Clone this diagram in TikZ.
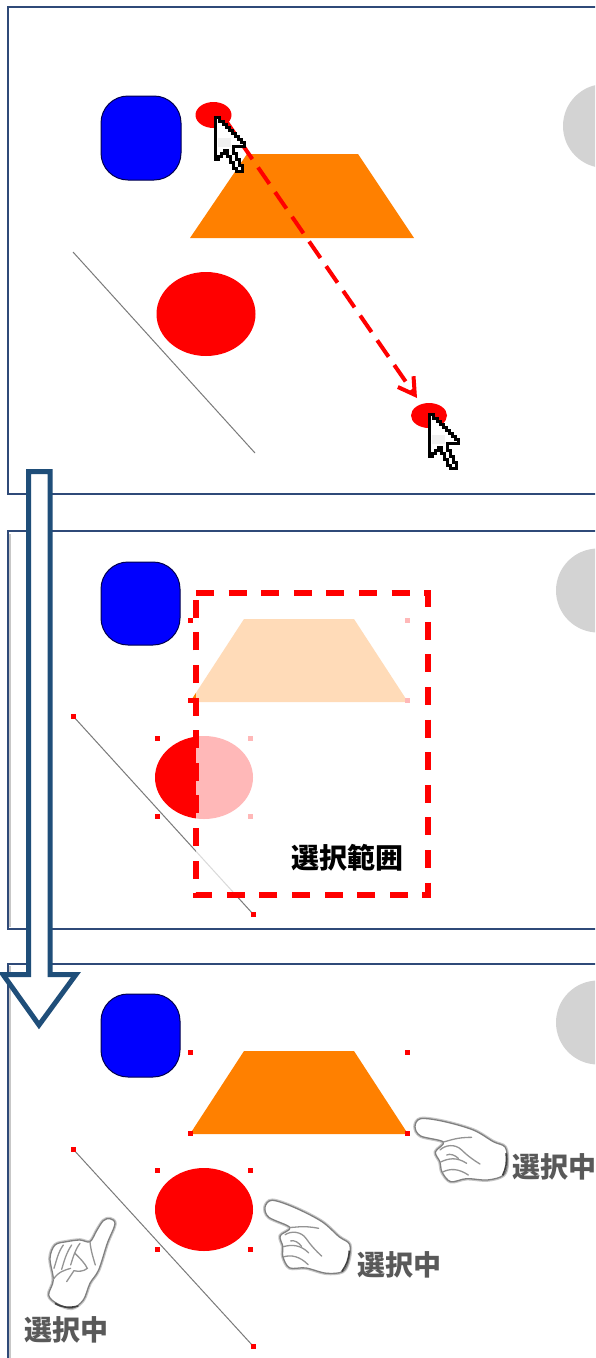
\documentclass[tikz,border=0pt]{standalone}
\usepackage{fontspec}
\newfontfamily\cjk{Noto Sans CJK JP}
\usetikzlibrary{arrows.meta,shapes.geometric}
\definecolor{panelblue}{HTML}{2F4A78}
\definecolor{arrowblue}{HTML}{1F4E79}
\definecolor{shapeorange}{HTML}{FF8000}
\definecolor{linegray}{HTML}{7A7A7A}
\definecolor{softgray}{HTML}{D3D3D3}
\definecolor{labelgray}{HTML}{595959}
\tikzset{
  panelline/.style={draw=panelblue,line width=1.7pt},
  shadowline/.style={draw=black!22,line width=1.5pt},
  bluebox/.style={fill=blue,draw=black!70!blue,line width=1pt,rounded corners=27pt},
  softdisc/.style={fill=softgray},
  trap/.style={fill=shapeorange},
  diag/.style={draw=linegray,line width=1pt},
  reddisc/.style={fill=red},
  handle/.style={fill=red,draw=none},
  handlefaded/.style={fill=red!28,draw=none},
  seltext/.style={font=\cjk\bfseries\fontsize{28}{28}\selectfont,inner sep=0pt,text=black},
  busytext/.style={font=\cjk\bfseries\fontsize{28}{28}\selectfont,inner sep=0pt,text=labelgray},
  handout/.style={draw=black!50,line width=1.3pt,fill=white,line join=round},
  handsoft/.style={draw=black!22,line width=3.6pt,line join=round},
  handin/.style={draw=black!42,line width=1.3pt,line cap=round},
  cursorbody/.pic={
    \path[draw=black,fill=white,line width=3pt,miter limit=2]
      (0,0)--(0,42)--(3,42)--(3,39)--(6,39)--(6,36)--(9,36)--(9,33)--(12,33)--(12,39)--(15,39)--(15,45)--(18,45)--(18,51)--(21,51)--(21,54)--(27,54)--(27,48)--(24,48)--(24,42)--(21,42)--(21,36)--(18,36)--(18,29)--(29,29)--(29,25)--(26,25)--(26,22)--(23,22)--(23,19)--(20,19)--(20,16)--(17,16)--(17,13)--(14,13)--(14,10)--(11,10)--(11,7)--(8,7)--(8,4)--(4,4)--(4,0)--cycle;
    \fill[black!6] (3,21) rectangle (16,30);
  },
  handa/.pic={
    \begin{scope}[x=.3333pt,y=-.3333pt]
      \draw[handsoft] plot[smooth cycle,tension=.55] coordinates {(45,80)(62,56)(130,64)(220,90)(280,125)(316,142)(322,190)(310,226)(262,240)(200,236)(152,245)(126,216)(120,186)(106,156)(130,126)(62,108)};
      \draw[handout] plot[smooth cycle,tension=.55] coordinates {(45,80)(62,56)(130,64)(220,90)(280,125)(316,142)(322,190)(310,226)(262,240)(200,236)(152,245)(126,216)(120,186)(106,156)(130,126)(62,108)};
      \draw[handin] (130,126) .. controls (155,120) and (170,112) .. (215,112);
      \draw[handin] (120,150) .. controls (135,135) and (165,130) .. (185,150) .. controls (200,165) and (220,180) .. (240,192);
      \draw[handin] (122,186) .. controls (145,175) and (170,170) .. (200,190);
      \draw[handin] (128,216) .. controls (150,205) and (175,205) .. (205,225);
      \draw[handin] (140,165) .. controls (150,160) and (165,165) .. (175,175);
      \draw[draw=black!75,line width=1.6pt] (318,160) .. controls (322,185) and (318,205) .. (308,226);
    \end{scope}
  },
  handb/.pic={
    \begin{scope}[x=.3333pt,y=-.3333pt]
      \draw[handsoft] plot[smooth cycle,tension=.55] coordinates {(330,56)(345,72)(322,130)(296,210)(270,250)(250,300)(215,325)(170,310)(146,285)(160,240)(150,175)(165,135)(200,125)(240,120)(270,125)(290,92)(310,62)};
      \draw[handout] plot[smooth cycle,tension=.55] coordinates {(330,56)(345,72)(322,130)(296,210)(270,250)(250,300)(215,325)(170,310)(146,285)(160,240)(150,175)(165,135)(200,125)(240,120)(270,125)(290,92)(310,62)};
      \draw[handin] (162,205) .. controls (170,180) and (175,155) .. (190,135);
      \draw[handin] (185,208) .. controls (192,185) and (198,160) .. (215,135);
      \draw[handin] (212,195) .. controls (220,170) and (225,150) .. (240,130);
      \draw[handin] (225,160) .. controls (240,175) and (255,190) .. (262,205) .. controls (250,215) and (235,215) .. (222,212);
      \draw[handin] (160,238) .. controls (175,215) and (195,210) .. (212,205);
      \draw[handin] (270,125) .. controls (272,150) and (280,175) .. (286,195);
      \draw[handin] (222,212) -- (200,245);
      \draw[draw=black!75,line width=1.6pt] (165,310) .. controls (185,322) and (205,325) .. (235,318);
    \end{scope}
  }
}
\begin{document}
\begin{tikzpicture}[x=1pt,y=-1pt]
\clip (0,0) rectangle (595,1358);
\fill[white] (0,0) rectangle (595,1358);

% ---- panel 1
\draw[panelline] (600,7) -- (8,7) -- (8,494) -- (600,494);
\fill[softdisc] (605,126) circle (42);
\draw[bluebox] (101,96) rectangle (181,180);
\fill[trap] (247,154) -- (358,154) -- (414,238) -- (190,238) -- cycle;
\draw[diag] (73,252) -- (255,453);
\fill[reddisc] (206,314) ellipse (49.5 and 42);
\node[ellipse,reddisc,minimum width=36pt,minimum height=26pt,inner sep=0pt] (ballstart) at (213.5,115) {};
\node[ellipse,reddisc,minimum width=36pt,minimum height=25pt,inner sep=0pt] (ballend) at (429,415.5) {};
\coordinate (dragfrom) at (224,118);
\coordinate (dragto) at (417,398);
\draw[red,line width=4pt,dash pattern=on 20pt off 10pt,-{Straight Barb[length=16pt,width=19pt,line width=4pt]}] (dragfrom) -- (dragto);
\pic at (215,117) {cursorbody};
\pic at (429,414) {cursorbody};

% ---- panel 2
\draw[panelline] (600,531) -- (8,531) -- (8,929) -- (600,929);
\draw[shadowline] (10.2,534) -- (10.2,927);
\fill[softdisc] (598,590.5) circle (42);
\draw[bluebox] (101,562) rectangle (180,645);
\fill[trap] (244,619) -- (354,619) -- (408,702) -- (190,702) -- cycle;
\draw[diag] (73,716) -- (253,914);
\fill[reddisc] (204,777.5) ellipse (49 and 41.5);
\fill[handle] (188,618) rectangle +(5,5);
\fill[handle] (188,697.5) rectangle +(5,5);
\fill[handle] (155,735.5) rectangle +(5,5);
\fill[handle] (155,814) rectangle +(5,5);
\fill[handle] (70.5,713.5) rectangle +(5,5);
\fill[handle] (250.5,911.5) rectangle +(5,5);
\fill[handle] (404.5,618) rectangle +(5,5);
\fill[handle] (404.5,697.5) rectangle +(5,5);
\fill[handle] (247.5,735.5) rectangle +(5,5);
\fill[handle] (247.5,814) rectangle +(5,5);
\fill[white,opacity=.72] (196,593) rectangle (428,895);
\draw[red,line width=5.2pt,dash pattern=on 18pt off 14.6pt] (196,593) -- (428,593) -- (428,895) -- (196,895) -- cycle;
\node[seltext,anchor=center] (rangelabel) at (347,858) {選択範囲};

% ---- panel 3
\draw[panelline] (600,964) -- (8,964) -- (8,1362);
\draw[shadowline] (10.2,966) -- (10.2,1362);
\fill[softdisc] (598,1022.5) circle (42);
\draw[bluebox] (101,994) rectangle (180,1077);
\fill[trap] (244,1051) -- (354,1051) -- (408,1134) -- (190,1134) -- cycle;
\draw[diag] (73,1149) -- (253,1346);
\fill[reddisc] (204,1209.5) ellipse (49 and 41.5);
\fill[handle] (188,1050) rectangle +(5,5);
\fill[handle] (404.5,1050) rectangle +(5,5);
\fill[handle] (188,1130.5) rectangle +(5,5);
\fill[handle] (404.5,1130.5) rectangle +(5,5);
\fill[handle] (155,1167.5) rectangle +(5,5);
\fill[handle] (247.5,1167.5) rectangle +(5,5);
\fill[handle] (155,1246.5) rectangle +(5,5);
\fill[handle] (247.5,1246.5) rectangle +(5,5);
\fill[handle] (70.5,1146.5) rectangle +(5,5);
\fill[handle] (250.5,1343.5) rectangle +(5,5);
\pic at (400,1100) {handa};
\pic[rotate=-11] at (255.4,1178) {handa};
\pic at (0,1200) {handb};
\node[busytext] (busya) at (554,1167) {選択中};
\node[busytext] (busyb) at (399,1265) {選択中};
\node[busytext] (busyc) at (66,1330) {選択中};

% ---- big arrow
\draw[draw=arrowblue,fill=white,line width=5pt,miter limit=10]
  (28.5,471.5) -- (50,471.5) -- (50,974.5) -- (76,974.5) -- (39,1025) -- (3,974.5) -- (28.5,974.5) -- cycle;
\end{tikzpicture}
\end{document}
